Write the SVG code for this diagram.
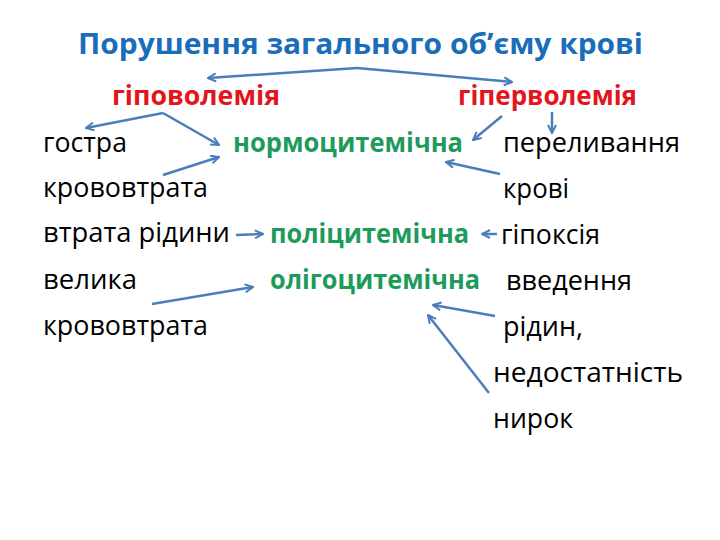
<svg xmlns="http://www.w3.org/2000/svg" width="720" height="540" viewBox="0 0 720 540">
<style>
text{font-family:"Open Sans","Noto Sans","Liberation Sans",sans-serif;font-size:27px;}
.t{fill:#1A6EB9;font-weight:bold;font-size:28px;}
.r{fill:#E4141C;font-weight:bold;}
.g{fill:#1E9B5A;font-weight:bold;}
.b{fill:#000;}
.c line,.c polyline{stroke:#4A7EBB;stroke-width:2.5;fill:none;marker-end:url(#ah);}
</style>
<defs>
<marker id="ah" viewBox="0 0 10 10" refX="9" refY="5" markerWidth="4" markerHeight="4" orient="auto" markerUnits="strokeWidth">
<path d="M1,1 L9,5 L1,9" fill="none" stroke="#4A7EBB" stroke-width="2" stroke-linejoin="miter"/>
</marker>
</defs>
<rect width="720" height="540" fill="#fff"/>
<g id="title"><text class="t" x="78" y="54" textLength="565" lengthAdjust="spacingAndGlyphs">Порушення загального об’єму крові</text></g>
<g id="hypovolemia"><text class="r" x="112" y="105" textLength="168" lengthAdjust="spacingAndGlyphs">гіповолемія</text></g>
<g id="hypervolemia"><text class="r" x="458" y="105" textLength="179" lengthAdjust="spacingAndGlyphs">гіперволемія</text></g>
<g id="acute-loss"><text class="b" x="43" y="152" textLength="84" lengthAdjust="spacingAndGlyphs">гостра</text><text class="b" x="43" y="197" textLength="165" lengthAdjust="spacingAndGlyphs">крововтрата</text></g>
<g id="normo"><text class="g" x="233" y="152" textLength="230" lengthAdjust="spacingAndGlyphs">нормоцитемічна</text></g>
<g id="transfusion"><text class="b" x="503" y="152" textLength="177" lengthAdjust="spacingAndGlyphs">переливання</text><text class="b" x="503" y="198" textLength="66" lengthAdjust="spacingAndGlyphs">крові</text></g>
<g id="fluid-loss"><text class="b" x="43" y="242" textLength="187" lengthAdjust="spacingAndGlyphs">втрата рідини</text></g>
<g id="poly"><text class="g" x="270" y="243" textLength="199" lengthAdjust="spacingAndGlyphs">поліцитемічна</text></g>
<g id="hypoxia"><text class="b" x="501" y="244" textLength="99" lengthAdjust="spacingAndGlyphs">гіпоксія</text></g>
<g id="large-loss"><text class="b" x="43" y="289" textLength="94" lengthAdjust="spacingAndGlyphs">велика</text><text class="b" x="43" y="335" textLength="165" lengthAdjust="spacingAndGlyphs">крововтрата</text></g>
<g id="oligo"><text class="g" x="270" y="289" textLength="210" lengthAdjust="spacingAndGlyphs">олігоцитемічна</text></g>
<g id="fluid-intro"><text class="b" x="506" y="290" textLength="126" lengthAdjust="spacingAndGlyphs">введення</text><text class="b" x="503" y="336" textLength="80" lengthAdjust="spacingAndGlyphs">рідин,</text></g>
<g id="renal"><text class="b" x="493" y="382" textLength="190" lengthAdjust="spacingAndGlyphs">недостатність</text><text class="b" x="493" y="428" textLength="80" lengthAdjust="spacingAndGlyphs">нирок</text></g>
<g id="connectors" class="c">
<line x1="357" y1="68" x2="208" y2="78"/>
<line x1="357" y1="68" x2="512" y2="82"/>
<line x1="163" y1="113" x2="86" y2="128"/>
<line x1="163" y1="113" x2="219" y2="145"/>
<line x1="163" y1="175" x2="219" y2="157"/>
<line x1="502" y1="116" x2="473" y2="140"/>
<line x1="552" y1="112" x2="552" y2="133"/>
<line x1="500" y1="174" x2="446" y2="162"/>
<line x1="236" y1="235" x2="263" y2="234"/>
<line x1="152" y1="304" x2="253" y2="287"/>
<line x1="497" y1="234" x2="482" y2="234"/>
<line x1="495" y1="316" x2="433" y2="305"/>
<line x1="489" y1="393" x2="428" y2="315"/>
</g>
</svg>
